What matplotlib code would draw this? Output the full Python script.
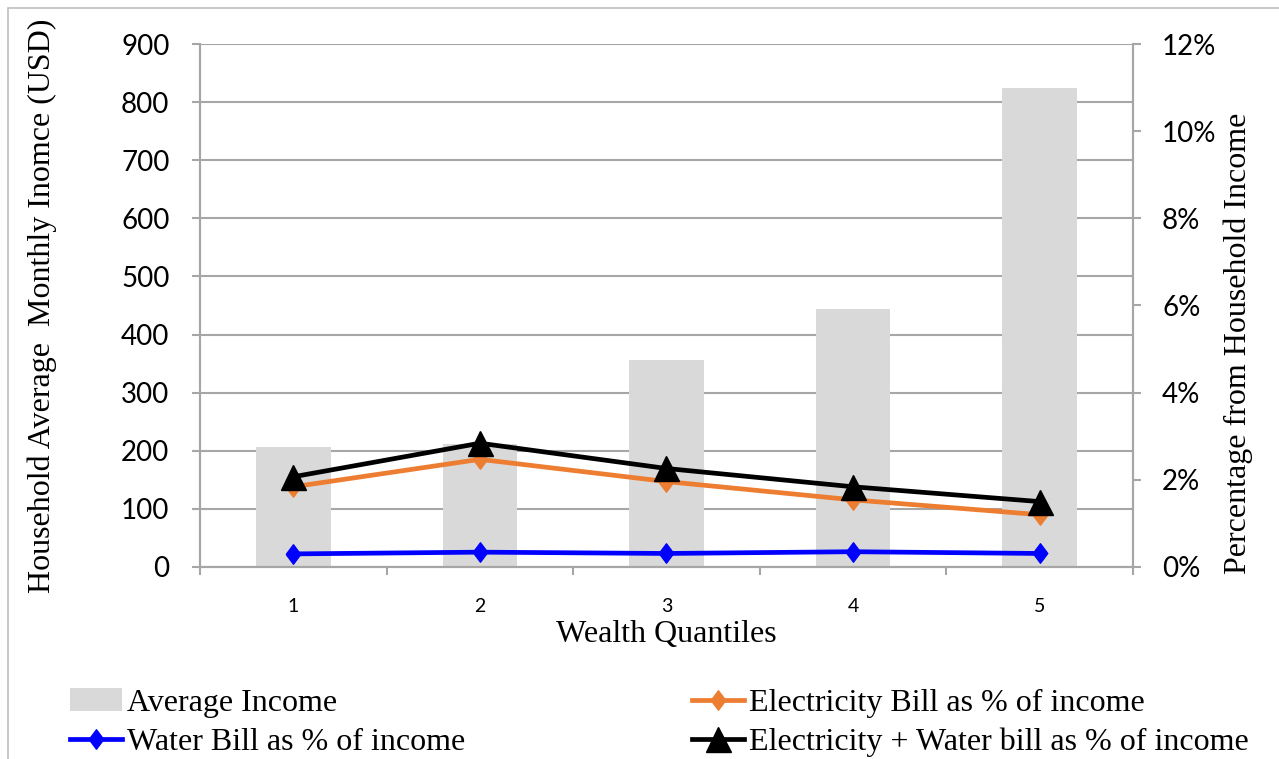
import matplotlib.pyplot as plt
import matplotlib.ticker as mtick
from matplotlib.patches import Rectangle
import numpy as np

quantiles = [1, 2, 3, 4, 5]
avg_income = [206, 212, 356, 444, 824]
elec_pct = [1.84, 2.47, 1.96, 1.54, 1.20]
water_pct = [0.30, 0.34, 0.31, 0.35, 0.31]
total_pct = [2.07, 2.84, 2.26, 1.84, 1.50]

serif = 'Liberation Serif'
sans = 'Lato'
grid_col = '#a6a6a6'

# tall diamond like the spreadsheet marker
diamond = [(-0.75, 0), (0, 1), (0.75, 0), (0, -1), (-0.75, 0)]

fig = plt.figure(figsize=(12.79, 7.59), dpi=100)
ax = fig.add_axes([0.1564, 0.2530, 0.7294, 0.6890])
ax2 = ax.twinx()

x = np.array(quantiles)
ax.bar(x, avg_income, width=0.4, color='#d9d9d9', label='Average Income', zorder=2)
ax.set_xlim(0.5, 5.5)
ax.set_ylim(0, 900)
ax.set_yticks(np.arange(0, 901, 100))
ax.grid(axis='y', color=grid_col, linewidth=1.5, zorder=0)
ax.set_axisbelow(True)

l_water, = ax2.plot(x, water_pct, color='#0000ff', lw=3.4, marker=diamond, ms=14,
                    label='Water Bill as % of income')
l_elec, = ax2.plot(x, elec_pct, color='#ed7d31', lw=3.4, marker=diamond, ms=14,
                   label='Electricity Bill as % of income')
l_total, = ax2.plot(x, total_pct, color='black', lw=3.4, marker='^', ms=18,
                    label='Electricity + Water bill as % of income')
ax2.set_ylim(0, 12)
ax2.set_yticks(np.arange(0, 12.1, 2))
ax2.yaxis.set_major_formatter(mtick.FuncFormatter(lambda v, p: f'{v:.0f}%'))

# category labels in the middle, tick marks between categories
ax.set_xticks(x)
ax.set_xticks(np.arange(0.5, 5.6, 1), minor=True)
ax.tick_params(axis='x', which='major', length=0, pad=22, labelsize=14)
ax.tick_params(axis='x', which='minor', length=6, width=1.5, color=grid_col)
ax.tick_params(axis='y', length=6, width=1.5, color=grid_col, labelsize=20, pad=16)
ax2.tick_params(axis='y', length=6, width=1.5, color=grid_col, labelsize=20, pad=15)
for a in (ax, ax2):
    for lab in a.get_xticklabels() + a.get_yticklabels():
        lab.set_fontfamily(sans)
    a.spines['top'].set_visible(False)
    for s in ('left', 'right', 'bottom'):
        a.spines[s].set_color(grid_col)
        a.spines[s].set_linewidth(1.5)

ax.set_xlabel('Wealth Quantiles', fontfamily=serif, fontsize=23, labelpad=4)
ax.set_ylabel('Household Average  Monthly Inomce (USD)', fontfamily=serif,
              fontsize=23, labelpad=46)
ax2.set_ylabel('Percentage from Household Income', fontfamily=serif, fontsize=23)
ax2.yaxis.set_label_coords(1.097, 0.428)

bars = ax.containers[0]
fig.legend([bars, l_water, l_elec, l_total],
           [bars.get_label(), l_water.get_label(), l_elec.get_label(), l_total.get_label()],
           ncol=2, loc='upper left', bbox_to_anchor=(0.0547, 0.093), frameon=False,
           prop={'family': serif, 'size': 23}, handlelength=1.63, handletextpad=0.16,
           columnspacing=7.1, labelspacing=0.3, borderpad=0, borderaxespad=0)

fig.patches.append(Rectangle((0.006, -0.01), 1.0, 1.0, transform=fig.transFigure,
                             fill=False, edgecolor='#bfbfbf', lw=1.2))

fig.savefig('out.png', dpi=100)
